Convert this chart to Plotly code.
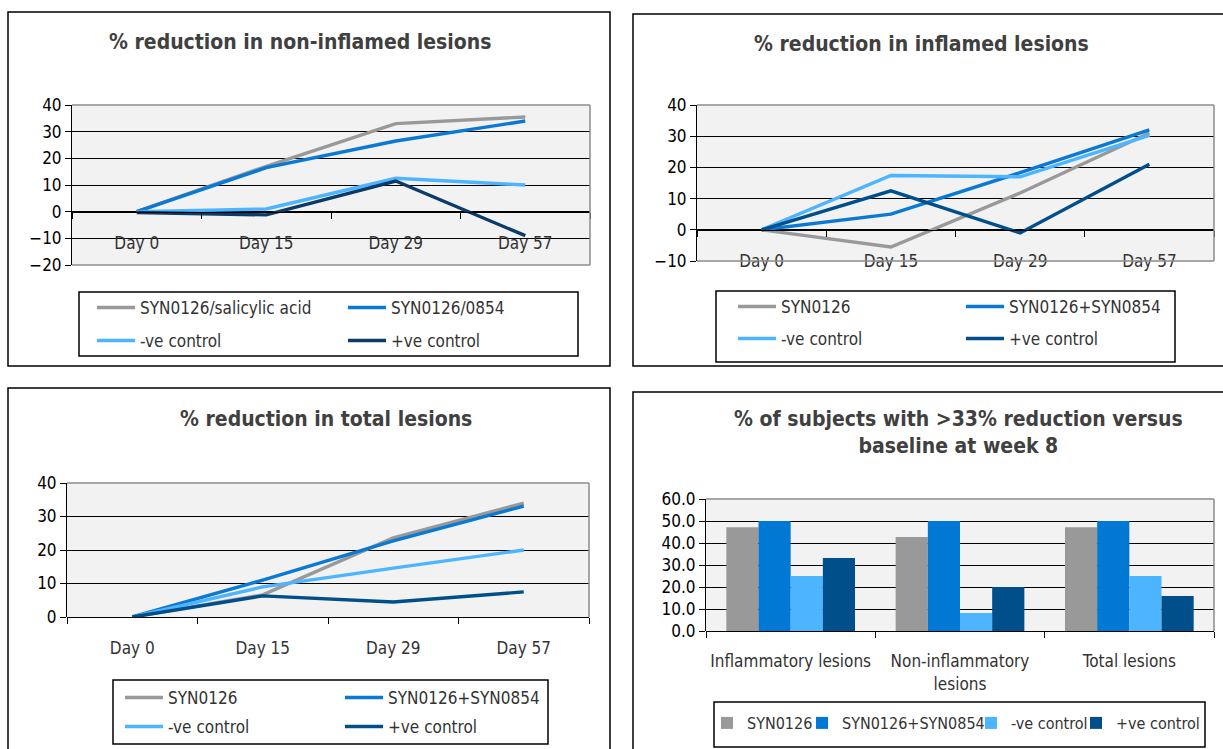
import plotly.graph_objects as go

# ---------------- data ----------------
days = ["Day 0", "Day 15", "Day 29", "Day 57"]

p1_names = ["SYN0126/salicylic acid", "SYN0126/0854", "-ve control", "+ve control"]
p1_salicylic = [0, 17, 33, 35.5]
p1_0854 = [0, 16.5, 26.5, 34]
p1_neg = [0, 1, 12.5, 10]
p1_pos = [-0.3, -1.2, 11.5, -9]

p2_names = ["SYN0126", "SYN0126+SYN0854", "-ve control", "+ve control"]
p2_syn0126 = [0, -5.5, 11.8, 31]
p2_combo = [0, 5, 18.3, 32]
p2_neg = [0, 17.4, 17, 30.3]
p2_pos = [0, 12.5, -1, 21]

p3_names = ["SYN0126", "SYN0126+SYN0854", "-ve control", "+ve control"]
p3_syn0126 = [0, 6.6, 23.6, 34]
p3_combo = [0, 11, 22.7, 33.1]
p3_neg = [0, 9, 14.6, 20]
p3_pos = [0, 6.3, 4.5, 7.5]

bar_categories = ["Inflammatory lesions", "Non-inflammatory<br>lesions", "Total lesions"]
bar_names = ["SYN0126", "SYN0126+SYN0854", "-ve control", "+ve control"]
b_syn0126 = [47.2, 42.7, 47.2]
b_combo = [50, 50, 50]
b_neg = [25, 8.2, 25]
b_pos = [33.2, 20, 15.9]

titles = ["% reduction in non-inflamed lesions",
          "% reduction in inflamed lesions",
          "% reduction in total lesions",
          "% of subjects with >33% reduction versus<br>baseline at week 8"]

# ---------------- style ----------------
W, H = 1223, 749
def fx(px): return px / W
def fy(py): return 1 - py / H

FONT = "DejaVu Sans Condensed, Liberation Sans, sans-serif"
GRAY = "#999999"
BLUE = "#0A79D3"
LIGHT = "#4DB4FF"
NAVY = "#004F8B"
NAVY1 = "#0B3C69"
TXT = "#333333"
FRAME = "#8C8C8C"

fig = go.Figure()

# panels: (xpix0, xpix1, ypix_top, ypix_bottom, yrange, dtick)
panels = [
    (72, 590, 105, 265, [-20, 40], 10),
    (697, 1214, 105, 261, [-10, 40], 10),
    (67, 589, 483, 617, [0, 40], 10),
    (706, 1214, 499, 631, [0, 60], 10),
]

line_sets = [
    (p1_names, [p1_salicylic, p1_0854, p1_neg, p1_pos], [GRAY, BLUE, LIGHT, NAVY1]),
    (p2_names, [p2_syn0126, p2_combo, p2_neg, p2_pos], [GRAY, BLUE, LIGHT, NAVY]),
    (p3_names, [p3_syn0126, p3_combo, p3_neg, p3_pos], [GRAY, BLUE, LIGHT, NAVY]),
]

# legend item positions: (text start px, row center py)
legend_pos = [
    [(140, 308), (391, 308), (140, 341), (391, 341)],
    [(781, 307), (1009, 307), (781, 339), (1009, 339)],
    [(168, 698), (388, 698), (168, 727), (388, 727)],
    [(745, 723), (840, 723), (1009, 723), (1114, 723)],
]

layout = dict(
    width=W, height=H, autosize=False,
    margin=dict(l=0, r=0, t=0, b=0, autoexpand=False),
    paper_bgcolor="white", plot_bgcolor="#F2F2F2",
    font=dict(family=FONT, size=17, color="black"),
    barmode="group", bargap=0.24, bargroupgap=0,
    showlegend=True,
)

legend_idx = 0
def next_legend():
    global legend_idx
    legend_idx += 1
    return "legend" if legend_idx == 1 else f"legend{legend_idx}"

for i, (x0, x1, yt, yb, yr, dt) in enumerate(panels):
    sfx = "" if i == 0 else str(i + 1)
    d0, d1 = fy(yb), fy(yt)
    zero_pos = d0 + (0 - yr[0]) / (yr[1] - yr[0]) * (d1 - d0)
    cats = days if i < 3 else bar_categories
    layout["xaxis" + sfx] = dict(
        domain=[fx(x0), fx(x1)], anchor="free", position=zero_pos,
        type="category", categoryorder="array", categoryarray=cats,
        range=[-0.5, len(cats) - 0.5],
        showline=True, linecolor="black", linewidth=1,
        ticks="outside", tickson="boundaries", ticklen=6, tickcolor="black",
        showgrid=False, zeroline=False, tickangle=0, automargin=False,
        tickfont=dict(family=FONT, size=17, color=TXT),
        ticklabelstandoff=16 if i < 3 else 15, fixedrange=True,
    )
    layout["yaxis" + sfx] = dict(
        domain=[d0, d1], anchor="x" + sfx, range=yr, dtick=dt,
        showline=True, linecolor="black", linewidth=1,
        ticks="outside", ticklen=6, tickcolor="black", automargin=False,
        showgrid=True, gridcolor="black", gridwidth=1, zeroline=False,
        tickfont=dict(family=FONT, size=17, color="black"),
        tickformat=".1f" if i == 3 else "d", fixedrange=True,
    )

    if i < 3:
        names, vals, cols = line_sets[i]
        for j in range(4):
            lg = next_legend()
            fig.add_trace(go.Scatter(
                x=days, y=vals[j], name=names[j], mode="lines",
                line=dict(color=cols[j], width=3.4),
                xaxis="x" + sfx, yaxis="y" + sfx, legend=lg,
            ))
            lx, ly = legend_pos[i][j]
            layout[lg] = dict(x=fx(lx - 48), y=fy(ly), xanchor="left", yanchor="middle",
                              bgcolor="rgba(0,0,0,0)", borderwidth=0, itemwidth=38,
                              font=dict(family=FONT, size=17, color=TXT),
                              itemclick=False, itemdoubleclick=False)
    else:
        bvals = [b_syn0126, b_combo, b_neg, b_pos]
        cols = [GRAY, "#0078D4", LIGHT, NAVY]
        for j in range(4):
            lg = next_legend()
            fig.add_trace(go.Bar(
                x=bar_categories, y=bvals[j], name=bar_names[j],
                marker=dict(color=cols[j], line=dict(width=0)),
                xaxis="x" + sfx, yaxis="y" + sfx, legend=lg,
            ))
            lx, ly = legend_pos[i][j]
            layout[lg] = dict(x=fx(lx - 38), y=fy(ly), xanchor="left", yanchor="middle",
                              bgcolor="rgba(0,0,0,0)", borderwidth=0, itemwidth=30,
                              font=dict(family=FONT, size=16, color=TXT),
                              itemclick=False, itemdoubleclick=False)

fig.update_layout(**layout)

shapes = []
# outer chart borders
for (a, b, c, d) in [(8, 610, 12, 366), (633, 1240, 14, 366), (8, 610, 388, 760), (633, 1240, 392, 760)]:
    shapes.append(dict(type="rect", xref="paper", yref="paper", x0=fx(a), x1=fx(b), y0=fy(d), y1=fy(c),
                       line=dict(color="black", width=1.5), layer="below"))
# legend borders
for (a, b, c, d) in [(79, 578, 292, 356), (716, 1175, 291, 362), (113, 548, 680, 744), (714, 1205, 702, 747)]:
    shapes.append(dict(type="rect", xref="paper", yref="paper", x0=fx(a), x1=fx(b), y0=fy(d), y1=fy(c),
                       line=dict(color="black", width=1.5), layer="below"))
# plot-area frame (top, right, bottom where not the category axis)
for i in range(4):
    sfx = "" if i == 0 else str(i + 1)
    xr, yr_ = "x" + sfx + " domain", "y" + sfx + " domain"
    segs = [(0, 1, 1, 1), (1, 1, 0, 1)]
    if i < 2:
        segs.append((0, 1, 0, 0))
    for (a, b, c, d) in segs:
        shapes.append(dict(type="line", xref=xr, yref=yr_, x0=a, x1=b, y0=c, y1=d,
                           line=dict(color=FRAME, width=1.5), layer="above"))
fig.update_layout(shapes=shapes)

# titles
title_pos = [(300, 42), (921, 44), (326, 419), (958, 432)]
for t, (tx, ty) in zip(titles, title_pos):
    fig.add_annotation(text="<b>" + t + "</b>", xref="paper", yref="paper",
                       x=fx(tx), y=fy(ty), xanchor="center", yanchor="middle",
                       showarrow=False, font=dict(family=FONT, size=21, color="#404040"))

fig.write_html("out.html")
